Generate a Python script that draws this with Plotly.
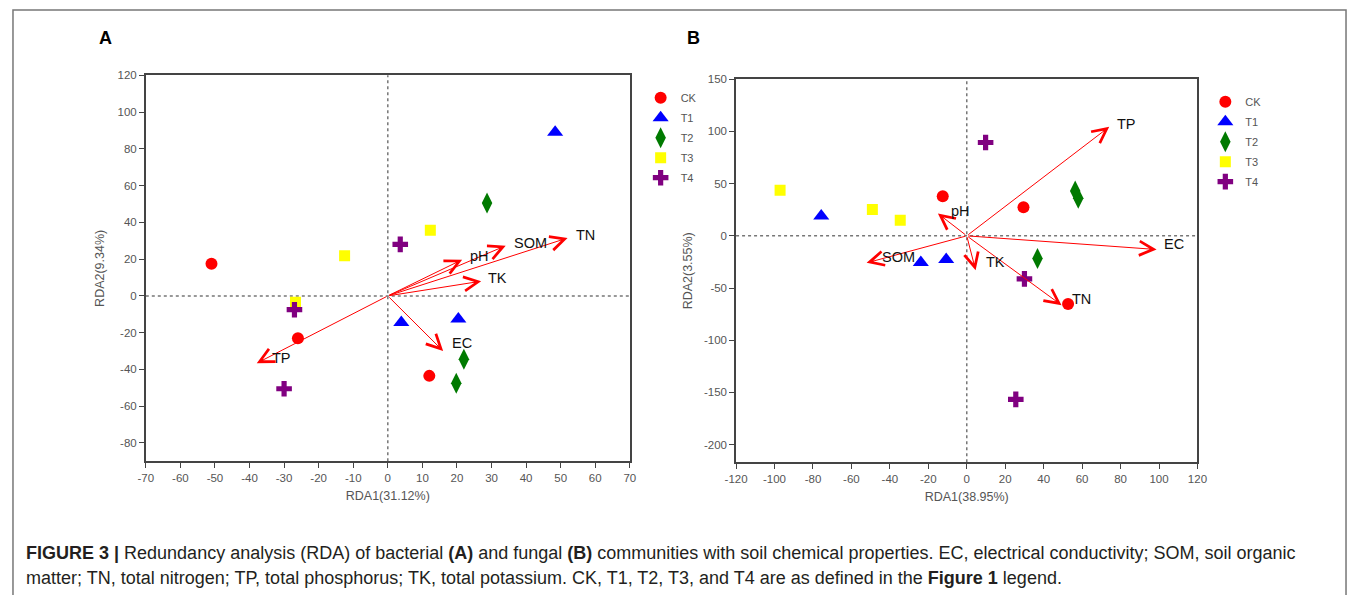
import plotly.graph_objects as go

W, H = 1357, 595

groups = ["CK", "T1", "T2", "T3", "T4"]
colors = ["#FF0000", "#0000FF", "#007A00", "#FFFF00", "#800080"]
symbols = ["circle", "triangle-up", "diamond-tall", "square", "cross"]
msizes = [12, 14, 15, 11, 13]

# Panel A (bacteria) sample scores
a_ck_x = [-51, -26, 12];      a_ck_y = [17.5, -23, -43.5]
a_t1_x = [48.4, 3.9, 20.4];   a_t1_y = [89, -14.5, -12.5]
a_t2_x = [28.7, 22, 19.8];    a_t2_y = [50.6, -34.5, -47.5]
a_t3_x = [-12.5, 12.3, -26.7]; a_t3_y = [21.9, 35.7, -3.5]
a_t4_x = [3.6, -27, -30];     a_t4_y = [28, -7.5, -50.5]

# Panel A environmental vectors
a_env = ["TN", "SOM", "pH", "TK", "TP", "EC"]
a_env_x = [52, 34.1, 21.5, 27, -37.9, 16]
a_env_y = [31.5, 27.3, 19.7, 8, -36.6, -30]
a_lab_x = [57.3, 41.3, 26.6, 31.8, -30.7, 21.5]
a_lab_y = [33.3, 28.8, 21.9, 9.8, -34, -25.7]

# Panel B (fungi) sample scores
b_ck_x = [-12.5, 29.5, 52.7];   b_ck_y = [38, 27.4, -65.4]
b_t1_x = [-75.7, -23.9, -10.7]; b_t1_y = [19, -25.5, -22.7]
b_t2_x = [56.4, 58, 36.8];      b_t2_y = [43, 36, -21.7]
b_t3_x = [-97.1, -49.1, -34.6]; b_t3_y = [43.7, 25.2, 15]
b_t4_x = [9.8, 30, 25.5];       b_t4_y = [89.4, -41.2, -156.7]

# Panel B environmental vectors
b_env = ["TP", "EC", "TN", "TK", "SOM", "pH"]
b_env_x = [74.1, 98.75, 49.3, 4.6, -52.1, -15]
b_env_y = [104.4, -13.1, -66.4, -32.9, -25.9, 21.4]
b_lab_x = [83, 107.7, 59.5, 14.8, -35.7, -3]
b_lab_y = [107.6, -8, -60.8, -24.9, -20, 23.6]

# tick values / labels
a_xticks = list(range(-70, 71, 10))
a_yticks = list(range(-80, 121, 20))
b_xticks = list(range(-120, 121, 20))
b_yticks = list(range(-200, 151, 50))

a_xs = [a_ck_x, a_t1_x, a_t2_x, a_t3_x, a_t4_x]
a_ys = [a_ck_y, a_t1_y, a_t2_y, a_t3_y, a_t4_y]
b_xs = [b_ck_x, b_t1_x, b_t2_x, b_t3_x, b_t4_x]
b_ys = [b_ck_y, b_t1_y, b_t2_y, b_t3_y, b_t4_y]

FONT = "Liberation Sans, Arial, sans-serif"
fig = go.Figure()

for i, g in enumerate(groups):
    fig.add_trace(go.Scatter(
        x=a_xs[i], y=a_ys[i], mode="markers", name=g, xaxis="x", yaxis="y",
        legend="legend", legendgroup="a" + g,
        marker=dict(color=colors[i], symbol=symbols[i], size=msizes[i], line=dict(width=0))))
for i, g in enumerate(groups):
    fig.add_trace(go.Scatter(
        x=b_xs[i], y=b_ys[i], mode="markers", name=g, xaxis="x2", yaxis="y2",
        legend="legend2", legendgroup="b" + g,
        marker=dict(color=colors[i], symbol=symbols[i], size=msizes[i], line=dict(width=0))))

ann = []
def add_vectors(names, vx, vy, lx, ly, xr, yr):
    for n, x, y, tx, ty in zip(names, vx, vy, lx, ly):
        ann.append(dict(x=x, y=y, ax=0, ay=0, xref=xr, yref=yr, axref=xr, ayref=yr,
                        showarrow=True, arrowhead=5, arrowsize=2.8, arrowwidth=1,
                        arrowcolor="#FF0000", text=""))
        ann.append(dict(x=tx, y=ty, xref=xr, yref=yr, text=n, showarrow=False,
                        font=dict(family=FONT, size=14.5, color="#111111")))

add_vectors(a_env, a_env_x, a_env_y, a_lab_x, a_lab_y, "x", "y")
add_vectors(b_env, b_env_x, b_env_y, b_lab_x, b_lab_y, "x2", "y2")

# panel letters
ann.append(dict(x=86 / W, y=1 - 20 / H, xref="paper", yref="paper", text="<b>A</b>",
                showarrow=False, font=dict(family=FONT, size=18, color="#000")))
ann.append(dict(x=693 / W, y=1 - 20 / H, xref="paper", yref="paper", text="<b>B</b>",
                showarrow=False, font=dict(family=FONT, size=18, color="#000")))

cap1 = ("<b>FIGURE 3 |</b> Redundancy analysis (RDA) of bacterial <b>(A)</b> and fungal <b>(B)</b> "
        "communities with soil chemical properties. EC, electrical conductivity; SOM, soil organic")
cap2 = ("matter; TN, total nitrogen; TP, total phosphorus; TK, total potassium. CK, T1, T2, T3, "
        "and T4 are as defined in the <b>Figure 1</b> legend.")
for txt, yy in [(cap1, 553), (cap2, 578)]:
    ann.append(dict(x=12 / W, y=1 - yy / H, xref="paper", yref="paper", text=txt,
                    xanchor="left", yanchor="middle", showarrow=False,
                    font=dict(family=FONT, size=18, color="#231F20")))

shapes = [
    dict(type="rect", xref="paper", yref="paper", x0=1 / W, x1=1356 / W, y0=-0.05, y1=1 - 4 / H,
         line=dict(color="#777777", width=1.5)),
    dict(type="line", xref="x", yref="y domain", x0=0, x1=0, y0=0, y1=1, layer="below",
         line=dict(color="#777777", width=1.5, dash="dot")),
    dict(type="line", xref="x domain", yref="y", x0=0, x1=1, y0=0, y1=0, layer="below",
         line=dict(color="#777777", width=1.5, dash="dot")),
    dict(type="line", xref="x2", yref="y2 domain", x0=0, x1=0, y0=0, y1=1, layer="below",
         line=dict(color="#777777", width=1.5, dash="dot")),
    dict(type="line", xref="x2 domain", yref="y2", x0=0, x1=1, y0=0, y1=0, layer="below",
         line=dict(color="#777777", width=1.5, dash="dot")),
]

tickfont = dict(family=FONT, size=11.5, color="#555555")
titlefont = dict(family=FONT, size=12.5, color="#555555")
axcommon = dict(showgrid=False, zeroline=False, showline=True, mirror=True, linecolor="#444444",
                linewidth=1.5, ticks="outside", ticklen=5, tickcolor="#444444", tickwidth=1,
                tickfont=tickfont, tickmode="array")

fig.update_layout(
    width=W, height=H, margin=dict(l=0, r=0, t=0, b=0),
    paper_bgcolor="white", plot_bgcolor="white",
    xaxis=dict(domain=[136 / W, 628 / W], range=[-70, 70], anchor="y",
               tickvals=a_xticks, ticktext=[str(v) for v in a_xticks],
               title=dict(text="RDA1(31.12%)", font=titlefont, standoff=8), **axcommon),
    yaxis=dict(domain=[1 - 460 / H, 1 - 70 / H], range=[-90, 120], anchor="x",
               tickvals=a_yticks, ticktext=[str(v) for v in a_yticks],
               title=dict(text="RDA2(9.34%)", font=titlefont, standoff=10), **axcommon),
    xaxis2=dict(domain=[736 / W, 1205 / W], range=[-120, 120], anchor="y2",
                tickvals=b_xticks, ticktext=[str(v) for v in b_xticks],
                title=dict(text="RDA1(38.95%)", font=titlefont, standoff=8), **axcommon),
    yaxis2=dict(domain=[1 - 461 / H, 1 - 74 / H], range=[-217, 150], anchor="x2",
                tickvals=b_yticks, ticktext=[str(v) for v in b_yticks],
                title=dict(text="RDA2(3.55%)", font=titlefont, standoff=9), **axcommon),
    legend=dict(x=639 / W, y=1 - 78 / H, xanchor="left", yanchor="top", tracegroupgap=1,
                font=dict(family=FONT, size=11, color="#555555"), bgcolor="rgba(0,0,0,0)"),
    legend2=dict(x=1213 / W, y=1 - 82 / H, xanchor="left", yanchor="top", tracegroupgap=1,
                 font=dict(family=FONT, size=11, color="#555555"), bgcolor="rgba(0,0,0,0)"),
    annotations=ann, shapes=shapes, showlegend=True,
)

fig.write_html("out.html", config={"displayModeBar": False},
               post_script="document.body.style.margin='0';document.body.style.overflow='hidden';")
